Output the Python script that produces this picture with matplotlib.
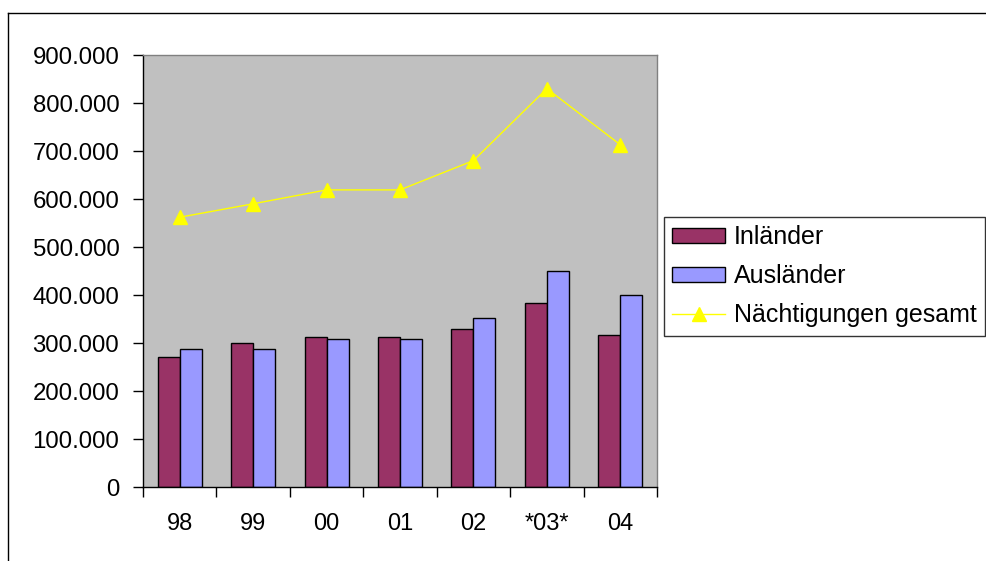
import matplotlib.pyplot as plt
import matplotlib.ticker as ticker
from matplotlib.lines import Line2D
import numpy as np

plt.rcParams['font.family'] = ['Liberation Sans', 'DejaVu Sans']

years = ['98', '99', '00', '01', '02', '*03*', '04']
inlaender = [270000, 299000, 312000, 312000, 329000, 383000, 316000]
auslaender = [287000, 287000, 308000, 308000, 353000, 449000, 399000]
gesamt = [562000, 590000, 619000, 619000, 680000, 830000, 713000]

W, H = 987, 561
fig = plt.figure(figsize=(W / 100, H / 100), dpi=100)
ax = fig.add_axes([143 / W, 1 - 487 / H, (657 - 143) / W, (487 - 55) / H])
ax.set_facecolor('#C0C0C0')

x = np.arange(len(years))
bw = 0.3
b1 = ax.bar(x - bw / 2, inlaender, bw, color='#993366', edgecolor='black', linewidth=1, label='Inländer')
b2 = ax.bar(x + bw / 2, auslaender, bw, color='#9999FF', edgecolor='black', linewidth=1, label='Ausländer')
l1, = ax.plot(x, gesamt, color='#FFFF00', linewidth=1, marker='^', markersize=9.5,
              markeredgecolor='#FFFF00', label='Nächtigungen gesamt')

ax.set_xlim(-0.5, len(years) - 0.5)
ax.set_ylim(0, 900000)
ax.yaxis.set_major_locator(ticker.MultipleLocator(100000))
ax.yaxis.set_major_formatter(ticker.FuncFormatter(
    lambda v, p: '0' if v == 0 else '{:,.0f}'.format(v).replace(',', '.')))

ax.set_xticks(np.arange(-0.5, len(years), 1))
ax.set_xticklabels([])
ax.set_xticks(x, minor=True)
ax.set_xticklabels(years, minor=True)
ax.tick_params(axis='x', which='major', direction='out', length=7, width=1, color='black')
ax.tick_params(axis='x', which='minor', length=0, pad=19, labelsize=17)
ax.tick_params(axis='y', direction='out', length=7, width=1, color='black', pad=10, labelsize=17.3)

for s in ['left', 'bottom']:
    ax.spines[s].set_color('black')
    ax.spines[s].set_linewidth(1)
for s in ['top', 'right']:
    ax.spines[s].set_color('#808080')
    ax.spines[s].set_linewidth(1)

leg = fig.legend(handles=[b1, b2, l1], loc='upper left',
                 bbox_to_anchor=(664 / W, 1 - 217 / H), bbox_transform=fig.transFigure,
                 fontsize=18, frameon=True, fancybox=False, shadow=False,
                 handlelength=2.1, handleheight=0.5, handletextpad=0.36,
                 labelspacing=0.6, borderpad=0.34, borderaxespad=0)
leg.get_frame().set_edgecolor('black')
leg.get_frame().set_linewidth(1)

# outer chart border (only top and left visible)
fig.add_artist(Line2D([8 / W, 8 / W], [0, 1 - 13 / H], transform=fig.transFigure, color='black', linewidth=1))
fig.add_artist(Line2D([8 / W, 1], [1 - 13 / H, 1 - 13 / H], transform=fig.transFigure, color='black', linewidth=1))

fig.savefig('out.png', dpi=100)
